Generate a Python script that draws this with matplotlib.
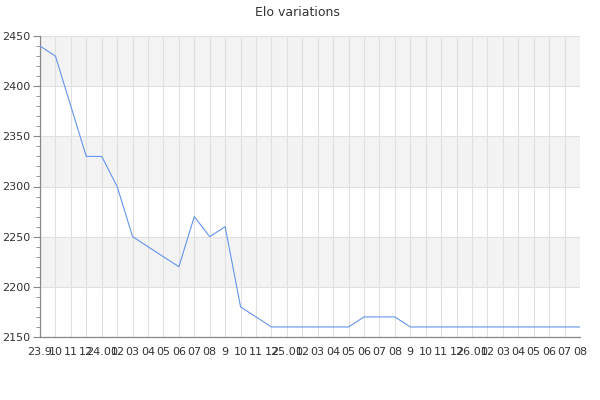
import matplotlib
matplotlib.use("Agg")
import matplotlib.pyplot as plt
from matplotlib.ticker import MultipleLocator

labels = ["23.9", "10", "11", "12", "24.01", "02", "03", "04", "05", "06", "07", "08",
          "9", "10", "11", "12", "25.01", "02", "03", "04", "05", "06", "07", "08",
          "9", "10", "11", "12", "26.01", "02", "03", "04", "05", "06", "07", "08"]
elo = [2440, 2430, 2380, 2330, 2330, 2300, 2250, 2240, 2230, 2220, 2270, 2250,
       2260, 2180, 2170, 2160, 2160, 2160, 2160, 2160, 2160, 2170, 2170, 2170,
       2160, 2160, 2160, 2160, 2160, 2160, 2160, 2160, 2160, 2160, 2160, 2160]
title = "Elo variations"
ymin, ymax, ystep = 2150, 2450, 50

fig = plt.figure(figsize=(6, 4), dpi=100)
ax = fig.add_axes([40/600, 63/400, 540/600, 301/400])

x = list(range(len(elo)))
# alternating background bands
for i, lo in enumerate(range(ymin, ymax, ystep)):
    if i % 2 == 1:
        ax.axhspan(lo, lo + ystep, color="#f3f3f3", zorder=0, lw=0)

ax.plot(x, elo, color="#6495ed", lw=0.8, zorder=3)
ax.set_xlim(0, len(elo) - 1)
ax.set_ylim(ymin, ymax)
ax.set_xticks(x)
ax.set_xticklabels(labels)
ax.yaxis.set_major_locator(MultipleLocator(ystep))
ax.yaxis.set_minor_locator(MultipleLocator(10))

ax.grid(True, which="major", color="#e0e0e0", lw=0.8, zorder=1)
for s in ["top", "right"]:
    ax.spines[s].set_visible(False)
for s in ["left", "bottom"]:
    ax.spines[s].set_color("#888888")
    ax.spines[s].set_linewidth(0.9)

ax.tick_params(axis="x", length=0, pad=7, labelsize=8, labelcolor="#333333")
ax.tick_params(axis="y", which="major", length=5, color="#888888", labelsize=8,
               labelcolor="#333333", pad=2)
ax.tick_params(axis="y", which="minor", length=3, color="#888888")

fig.text(297/600, 1 - 12/400, title, ha="center", va="center", fontsize=9, color="#333333")

fig.savefig("out.png", dpi=100)
